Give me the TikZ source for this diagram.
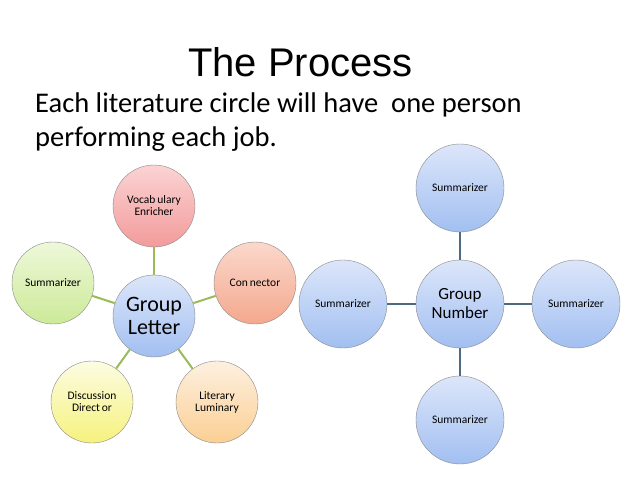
\documentclass[tikz,border=0pt]{standalone}
\usepackage{fontspec}
\setmainfont{Carlito}
\newfontfamily\titlefont{Liberation Sans}
\definecolor{leafgreen}{HTML}{9BBB59}
\definecolor{slateline}{HTML}{4F6A80}
\definecolor{rimgray}{HTML}{8A8A8A}
\definecolor{bluetop}{HTML}{DCE6FA}
\definecolor{bluebot}{HTML}{A2BFF1}
\definecolor{pinktop}{HTML}{FBD3D3}
\definecolor{pinkbot}{HTML}{F39B9B}
\definecolor{greentop}{HTML}{EEF8DA}
\definecolor{greenbot}{HTML}{CCEA98}
\definecolor{salmontop}{HTML}{FBD8CC}
\definecolor{salmonbot}{HTML}{F4A88E}
\definecolor{yellowtop}{HTML}{FCFCE2}
\definecolor{yellowbot}{HTML}{F6F27E}
\definecolor{peachtop}{HTML}{FDF0E0}
\definecolor{peachbot}{HTML}{FBCF94}
\tikzset{
  role/.style={circle, draw=rimgray, thin, minimum size=82pt, inner sep=0pt, align=center, font=\fontsize{11.5}{12}\selectfont},
  bigrole/.style={role, minimum size=88pt},
  hub/.style={font=\fontsize{22}{23}\selectfont},
  bluefill/.style={top color=bluetop, bottom color=bluebot},
  link/.style={line width=2pt},
}

\begin{document}
\begin{tikzpicture}[x=1pt, y=-1pt]
  \useasboundingbox (0,0) rectangle (638,479);
  \fill[white] (0,0) rectangle (638,479);

  % Ueberschrift und Text
  \node[anchor=base west, inner sep=0pt, font=\titlefont\fontsize{40}{44}\selectfont] (titel) at (188,76) {The Process};
  \node[anchor=base west, inner sep=0pt, align=left, font=\fontsize{28.5}{34}\selectfont] (intro) at (35,146)
    {Each literature circle will have \ one person\\performing each job.};

  % Linke Gruppe
  \node[role, hub, bluefill] (letter) at (154,316) {Group\\Letter};
  \node[role, top color=pinktop, bottom color=pinkbot] (vocab) at (154,206) {Vocab\,ulary\\Enricher};
  \node[role, top color=greentop, bottom color=greenbot] (summ) at (53,283) {Summarizer};
  \node[role, top color=salmontop, bottom color=salmonbot] (conn) at (255,283) {Con\,nector};
  \node[role, top color=yellowtop, bottom color=yellowbot] (disc) at (92,402) {Discussion\\Direct\,or};
  \node[role, top color=peachtop, bottom color=peachbot] (lit) at (217,402) {Literary\\Luminary};

  % Rechte Gruppe
  \node[bigrole, bluefill, font=\fontsize{17}{19}\selectfont] (number) at (460,304) {Group\\Number};
  \node[bigrole, bluefill] (stop)    at (460,188) {Summarizer};
  \node[bigrole, bluefill] (sleft)   at (343,304) {Summarizer};
  \node[bigrole, bluefill] (sright)  at (576,304) {Summarizer};
  \node[bigrole, bluefill] (sbottom) at (460,420) {Summarizer};

  % Verbindungen
  \foreach \n in {vocab, summ, conn, disc, lit}
    \draw[link, leafgreen] (letter) -- (\n);
  \foreach \n in {stop, sleft, sright, sbottom}
    \draw[link, slateline] (number) -- (\n);
\end{tikzpicture}
\end{document}
